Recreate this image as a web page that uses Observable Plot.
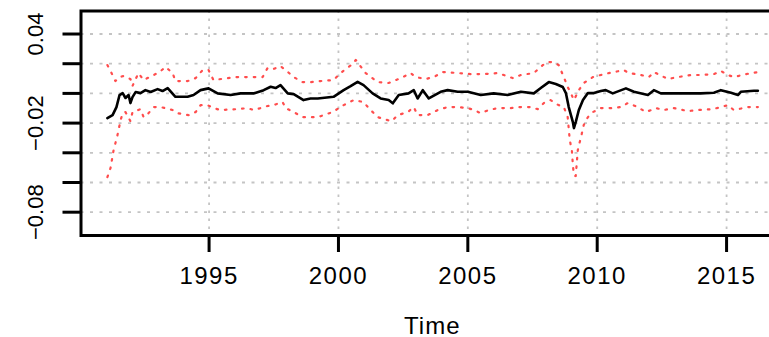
<!DOCTYPE html>
<html><head><meta charset="utf-8">
<script src="https://cdn.jsdelivr.net/npm/d3@7"></script>
<script src="https://cdn.jsdelivr.net/npm/@observablehq/plot@0.6"></script>
<style>html,body{margin:0;padding:0;overflow:hidden;background:#fff;}
#chart g[aria-label="x-axis tick label"] text{letter-spacing:1.5px;}
#chart g[aria-label="x-axis label"] text{letter-spacing:1px;}</style>
</head><body><div id="chart"></div>
<script>
// Fitted series (black)
const fitYears = [1991.07,1991.27,1991.42,1991.54,1991.66,1991.77,1991.89,1991.96,1992.04,1992.16,1992.35,1992.54,1992.74,1993.01,1993.20,1993.40,1993.70,1994.17,1994.40,1994.67,1994.98,1995.33,1995.83,1996.22,1996.72,1997.11,1997.38,1997.57,1997.76,1998.04,1998.27,1998.65,1998.92,1999.20,1999.81,2000.20,2000.47,2000.74,2000.97,2001.32,2001.63,2001.94,2002.10,2002.33,2002.71,2002.91,2003.06,2003.26,2003.49,2003.95,2004.22,2004.61,2005.00,2005.50,2006.00,2006.54,2007.05,2007.55,2007.82,2008.13,2008.40,2008.67,2008.79,2008.90,2009.06,2009.10,2009.17,2009.29,2009.45,2009.64,2009.87,2010.14,2010.33,2010.60,2011.11,2011.42,2011.96,2012.19,2012.46,2012.96,2013.50,2014.00,2014.51,2014.78,2015.17,2015.44,2015.55,2016.06,2016.21];
const fitValues = [-0.0166,-0.0146,-0.0092,-0.0011,0.0002,-0.0031,-0.0011,-0.0065,-0.0025,0.0009,0.0002,0.0022,0.0009,0.0029,0.0016,0.0036,-0.0023,-0.0023,-0.0011,0.0022,0.0034,0.0000,-0.0011,0.0000,0.0000,0.0022,0.0045,0.0036,0.0056,0.0000,-0.0005,-0.0045,-0.0034,-0.0034,-0.0023,0.0022,0.0049,0.0078,0.0056,0.0000,-0.0034,-0.0045,-0.0067,-0.0011,0.0000,0.0022,-0.0034,0.0022,-0.0034,0.0011,0.0022,0.0011,0.0011,-0.0011,0.0000,-0.0011,0.0011,0.0000,0.0036,0.0076,0.0063,0.0043,0.0002,-0.0092,-0.0193,-0.0234,-0.0193,-0.0112,-0.0045,0.0002,0.0002,0.0016,0.0022,0.0000,0.0034,0.0011,-0.0011,0.0022,0.0000,0.0000,0.0000,0.0000,0.0004,0.0022,0.0004,-0.0011,0.0011,0.0018,0.0018];

// Upper band (red dotted)
const upperYears = [1991.07,1991.23,1991.38,1991.54,1991.69,1991.96,1992.04,1992.27,1992.47,1992.70,1992.93,1993.13,1993.32,1993.59,1993.70,1994.17,1994.48,1994.75,1994.98,1995.17,1995.72,1996.10,1996.72,1997.07,1997.26,1997.49,1997.76,1997.96,1998.27,1998.62,1998.92,1999.31,1999.81,2000.08,2000.28,2000.55,2000.67,2001.05,2001.52,2001.94,2002.41,2002.79,2002.99,2003.37,2003.68,2004.03,2004.61,2005.11,2005.61,2006.16,2006.74,2007.05,2007.55,2007.90,2008.09,2008.28,2008.51,2008.71,2008.86,2008.98,2009.10,2009.29,2009.48,2009.83,2010.14,2010.45,2011.03,2011.22,2011.69,2012.00,2012.19,2012.73,2013.12,2013.62,2014.00,2014.51,2014.78,2015.05,2015.28,2015.75,2016.21];
const upperValues = [0.0191,0.0137,0.0083,0.0110,0.0117,0.0097,0.0050,0.0137,0.0090,0.0110,0.0130,0.0151,0.0178,0.0137,0.0083,0.0083,0.0103,0.0157,0.0157,0.0090,0.0103,0.0110,0.0110,0.0110,0.0171,0.0164,0.0184,0.0157,0.0110,0.0076,0.0076,0.0083,0.0090,0.0137,0.0164,0.0198,0.0225,0.0137,0.0076,0.0070,0.0103,0.0137,0.0110,0.0097,0.0110,0.0144,0.0137,0.0130,0.0130,0.0137,0.0103,0.0124,0.0137,0.0191,0.0211,0.0211,0.0191,0.0110,0.0043,0.0002,-0.0045,0.0022,0.0070,0.0110,0.0124,0.0137,0.0157,0.0137,0.0124,0.0110,0.0144,0.0097,0.0110,0.0124,0.0124,0.0130,0.0151,0.0124,0.0110,0.0130,0.0144];

// Lower band (red dotted)
const lowerYears = [1991.07,1991.19,1991.31,1991.46,1991.58,1991.66,1991.77,1991.96,1992.04,1992.35,1992.47,1992.66,1992.86,1993.13,1993.59,1993.78,1994.21,1994.48,1994.67,1994.94,1995.17,1995.44,1996.10,1996.49,1996.72,1996.99,1997.26,1997.49,1997.84,1997.96,1998.27,1998.62,1998.92,1999.20,1999.77,2000.20,2000.59,2000.97,2001.17,2001.52,2001.90,2002.06,2002.29,2002.68,2002.91,2003.06,2003.45,2003.84,2004.22,2004.61,2005.00,2005.23,2005.50,2005.81,2006.16,2006.66,2007.05,2007.43,2007.70,2007.94,2008.20,2008.51,2008.71,2008.86,2008.94,2009.02,2009.06,2009.10,2009.17,2009.25,2009.41,2009.48,2009.64,2009.83,2010.14,2010.53,2010.91,2011.18,2011.57,2011.88,2012.27,2012.58,2012.96,2013.50,2013.89,2014.47,2014.78,2015.05,2015.28,2015.83,2016.21];
const lowerValues = [-0.0564,-0.0503,-0.0382,-0.0281,-0.0180,-0.0133,-0.0126,-0.0187,-0.0126,-0.0106,-0.0160,-0.0133,-0.0092,-0.0092,-0.0112,-0.0133,-0.0146,-0.0126,-0.0079,-0.0079,-0.0099,-0.0112,-0.0106,-0.0099,-0.0112,-0.0099,-0.0085,-0.0079,-0.0058,-0.0099,-0.0126,-0.0160,-0.0160,-0.0160,-0.0126,-0.0079,-0.0045,-0.0058,-0.0099,-0.0160,-0.0180,-0.0187,-0.0146,-0.0126,-0.0092,-0.0146,-0.0146,-0.0112,-0.0092,-0.0092,-0.0099,-0.0112,-0.0133,-0.0112,-0.0099,-0.0099,-0.0092,-0.0092,-0.0106,-0.0065,-0.0045,-0.0079,-0.0092,-0.0160,-0.0315,-0.0382,-0.0483,-0.0551,-0.0557,-0.0382,-0.0267,-0.0213,-0.0160,-0.0126,-0.0099,-0.0099,-0.0092,-0.0065,-0.0092,-0.0126,-0.0099,-0.0112,-0.0099,-0.0119,-0.0112,-0.0106,-0.0092,-0.0079,-0.0112,-0.0092,-0.0092];

// Axis ticks and labels
const yTicks = [0.04, 0.02, 0, -0.02, -0.04, -0.06, -0.08];
const yLabelTicks = [0.04, -0.02, -0.08];
const xTicks = [1995, 2000, 2005, 2010, 2015];
const xTitle = "Time";

const toRows = (xs, ys) => xs.map((x, i) => ({x, y: ys[i]}));
const fit = toRows(fitYears, fitValues);
const upper = toRows(upperYears, upperValues);
const lower = toRows(lowerYears, lowerValues);

const chart = Plot.plot({
  width: 769,
  height: 337,
  marginLeft: 80.5,
  marginRight: -14,
  marginTop: 10.5,
  marginBottom: 102,
  x: {domain: [1990.05, 2017.2]},
  y: {domain: [-0.0957, 0.0555]},
  style: {fontFamily: "'Liberation Sans', Arial, sans-serif", background: "white", color: "black", overflow: "hidden"},
  marks: [
    Plot.gridY(yTicks, {stroke: "#c4c4c4", strokeOpacity: 1, strokeWidth: 1.8, strokeDasharray: "3,6.5"}),
    Plot.gridX(xTicks, {stroke: "#c4c4c4", strokeOpacity: 1, strokeWidth: 1.8, strokeDasharray: "2.5,5.5"}),
    Plot.line(upper, {x: "x", y: "y", stroke: "#ff2020", strokeWidth: 2.2, strokeDasharray: "1.6,7", strokeOpacity: 0.8}),
    Plot.line(lower, {x: "x", y: "y", stroke: "#ff2020", strokeWidth: 2.2, strokeDasharray: "1.6,7", strokeOpacity: 0.8}),
    Plot.line(fit, {x: "x", y: "y", stroke: "black", strokeWidth: 2.6}),
    Plot.frame({stroke: "black", strokeWidth: 3}),
    Plot.axisY(yTicks, {tickSize: 18, strokeWidth: 3, tickFormat: () => "", label: null}),
    Plot.axisY(yLabelTicks, {tickSize: 0, tickPadding: 38.5, tickRotate: -90, fontSize: 22, label: null}),
    Plot.axisX(xTicks, {tickSize: 17, strokeWidth: 3, tickPadding: 14.7, fontSize: 24,
      tickFormat: d => String(d),
      label: xTitle, labelAnchor: "center", labelArrow: "none", labelOffset: 98})
  ]
});
document.getElementById("chart").appendChild(chart);
</script>
</body></html>
